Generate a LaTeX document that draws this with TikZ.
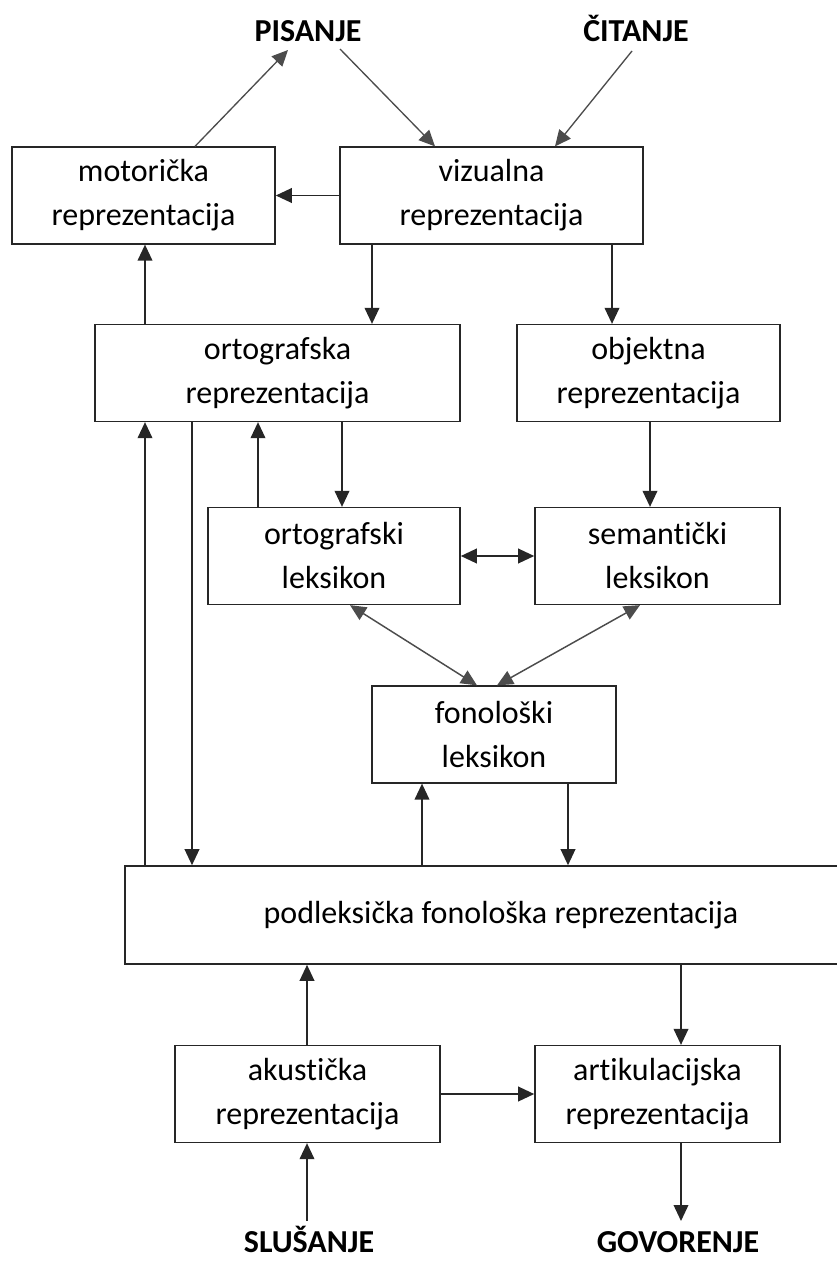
\documentclass[tikz,border=0pt]{standalone}
\usepackage{fontspec}
\setmainfont{Carlito}[Ligatures=NoCommon]
\usepackage{tikz}
\usetikzlibrary{arrows.meta}

\tikzset{
  box/.style={draw=black!85, line width=1.2pt, minimum height=72.5pt, inner sep=0pt,
    align=center, font=\fontsize{24}{33}\selectfont},
  lab/.style={inner sep=0pt, anchor=base, font=\fontsize{24}{30}\selectfont\bfseries},
  arr/.style={draw=black!85, line width=1.2pt, -{Triangle[length=12pt,width=11pt]}},
  darr/.style={draw=black!70, line width=1.1pt, {Triangle[length=12pt,width=11pt]}-{Triangle[length=12pt,width=11pt]}}
}

\begin{document}
\begin{tikzpicture}[x=0.75pt,y=0.75pt,yscale=-1,xscale=1]
  \useasboundingbox (0,0) rectangle (837,1263);

  % Text Node
  \node[lab] (pis) at (308,42) {PISANJE};
  % Text Node
  \node[lab] (cit) at (636,42) {ČITANJE};
  % Text Node
  \node[lab] (slu) at (309,1252) {SLUŠANJE};
  % Text Node
  \node[lab] (gov) at (678,1252) {GOVORENJE};

  % Boxes
  \node[box, minimum width=197.25pt] (mot) at (143.5,195.5) {motorička\\reprezentacija};
  \node[box, minimum width=227.25pt] (viz) at (491.5,195.5) {vizualna\\reprezentacija};
  \node[box, minimum width=273.75pt] (orto) at (277.5,373) {ortografska\\reprezentacija};
  \node[box, minimum width=197.25pt] (obj) at (648.5,373) {objektna\\reprezentacija};
  \node[box, minimum width=189pt] (olex) at (334,556) {ortografski\\leksikon};
  \node[box, minimum width=183.75pt] (slex) at (657.5,556) {semantički\\leksikon};
  \node[box, minimum width=183pt] (flex) at (494,734.5) {fonološki\\leksikon};
  \node[box, minimum width=564pt, minimum height=73.5pt] (pod) at (501,915) {podleksička fonološka reprezentacija};
  \node[box, minimum width=198.75pt] (aku) at (307.5,1094) {akustička\\reprezentacija};
  \node[box, minimum width=183.75pt] (art) at (657.5,1094) {artikulacijska\\reprezentacija};

  % columns and free ends
  \coordinate (k145) at (145,0);
  \coordinate (k192) at (192,0);
  \coordinate (k195) at (195,0);
  \coordinate (k258) at (258,0);
  \coordinate (k307) at (307,0);
  \coordinate (k342) at (342,0);
  \coordinate (k350) at (350,0);
  \coordinate (k372) at (372,0);
  \coordinate (k422) at (422,0);
  \coordinate (k477) at (477,0);
  \coordinate (k497) at (497,0);
  \coordinate (k568) at (568,0);
  \coordinate (k612) at (612,0);
  \coordinate (k640) at (640,0);
  \coordinate (k650) at (650,0);
  \coordinate (k681) at (681,0);
  \coordinate (pisIn) at (288,50);
  \coordinate (pisOut) at (340,49);
  \coordinate (citOut) at (632,51);
  \coordinate (vizIn1) at (435,0);
  \coordinate (vizIn2) at (555,0);
  \coordinate (sluOut) at (307,1221);
  \coordinate (govIn) at (681,1221);

  % top
  \draw[arr, line width=1pt, draw=black!70] (mot.north -| k195) -- (pisIn);
  \draw[arr, line width=1pt, draw=black!70] (pisOut) -- (viz.north -| vizIn1);
  \draw[arr, line width=1pt, draw=black!70] (citOut) -- (viz.north -| vizIn2);
  \draw[arr] (viz.west) -- (mot.east);
  \draw[arr] (viz.south -| k372) -- (orto.north -| k372);
  \draw[arr] (viz.south -| k612) -- (obj.north -| k612);
  \draw[arr] (orto.north -| k145) -- (mot.south -| k145);

  % middle
  \draw[arr] (orto.south -| k342) -- (olex.north -| k342);
  \draw[arr] (olex.north -| k258) -- (orto.south -| k258);
  \draw[arr] (obj.south -| k650) -- (slex.north -| k650);
  \draw[darr, draw=black!85, line width=1.2pt] (olex.east) -- (slex.west);
  \draw[darr] (olex.south -| k350) -- (flex.north -| k477);
  \draw[darr] (slex.south -| k640) -- (flex.north -| k497);

  % long lines to podleksicka
  \draw[arr] (pod.north -| k145) -- (orto.south -| k145);
  \draw[arr] (orto.south -| k192) -- (pod.north -| k192);
  \draw[arr] (pod.north -| k422) -- (flex.south -| k422);
  \draw[arr] (flex.south -| k568) -- (pod.north -| k568);

  % bottom
  \draw[arr] (aku.north -| k307) -- (pod.south -| k307);
  \draw[arr] (pod.south -| k681) -- (art.north -| k681);
  \draw[arr] (aku.east) -- (art.west);
  \draw[arr] (sluOut) -- (aku.south -| k307);
  \draw[arr] (art.south -| k681) -- (govIn);
\end{tikzpicture}
\end{document}
